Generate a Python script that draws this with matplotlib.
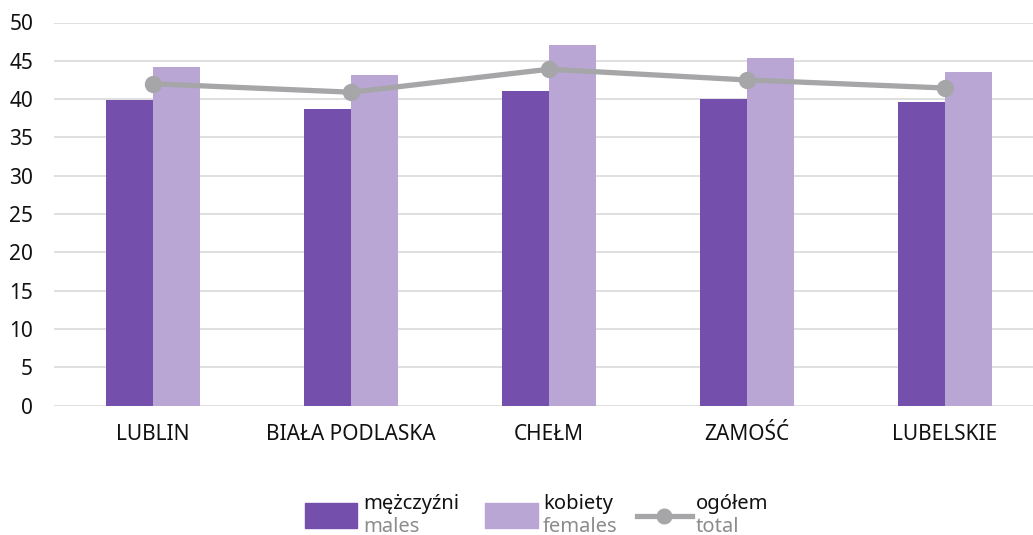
import matplotlib
matplotlib.use("Agg")
import matplotlib.pyplot as plt
from matplotlib.patches import Rectangle
from matplotlib.lines import Line2D
import numpy as np

categories = ["LUBLIN", "BIAŁA PODLASKA", "CHEŁM", "ZAMOŚĆ", "LUBELSKIE"]
males = [39.9, 38.7, 41.05, 40.0, 39.6]
females = [44.25, 43.1, 47.1, 45.4, 43.5]
total = [42.0, 40.9, 43.9, 42.5, 41.45]
yticks = [0, 5, 10, 15, 20, 25, 30, 35, 40, 45, 50]

c_m = "#7450AC"
c_f = "#B9A6D5"
c_t = "#A6A6A8"
c_grid = "#D9D9D9"

plt.rcParams['font.family'] = ['Noto Sans', 'DejaVu Sans']

W, H = 1033, 535
fig = plt.figure(figsize=(W/100, H/100), dpi=100)
ax = fig.add_axes([54/W, (H-405.5)/H, 990/W, (405.5-22.5)/H])

x = np.arange(len(categories))
bw = 0.236
ax.bar(x - bw/2, males, width=bw, color=c_m, zorder=2, linewidth=0)
ax.bar(x + bw/2, females, width=bw, color=c_f, zorder=2, linewidth=0)
ax.plot(x, total, color=c_t, lw=3.8, marker='o', ms=11.5, zorder=3)

ax.set_xlim(-0.5, len(categories) - 0.5)
ax.set_ylim(0, 50)
ax.set_yticks(yticks)
ax.set_yticklabels([str(v) for v in yticks], fontsize=15, color="#111111")
ax.set_xticks(x)
ax.set_xticklabels(categories, fontsize=15, color="#111111")
ax.tick_params(axis='both', length=0)
ax.tick_params(axis='y', pad=15)
ax.tick_params(axis='x', pad=13)
ax.yaxis.grid(True, color=c_grid, lw=1.2, zorder=0)
ax.set_axisbelow(True)
for s in ax.spines.values():
    s.set_visible(False)

# custom legend
def fx(px):
    return px / W
def fy(py):
    return (H - py) / H

fig.patches.append(Rectangle((fx(305), fy(528)), 52/W, 25/H, transform=fig.transFigure,
                             color=c_m, figure=fig))
fig.patches.append(Rectangle((fx(485), fy(528)), 53/W, 25/H, transform=fig.transFigure,
                             color=c_f, figure=fig))
fig.lines.append(Line2D([fx(637), fx(692)], [fy(516), fy(516)], transform=fig.transFigure,
                        color=c_t, lw=3.8, figure=fig))
fig.lines.append(Line2D([fx(664)], [fy(516)], transform=fig.transFigure, marker='o', ms=10.5,
                        color=c_t, figure=fig))

legend_items = [(363, "mężczyźni", "males"), (543, "kobiety", "females"), (696, "ogółem", "total")]
for px, top, bot in legend_items:
    fig.text(fx(px), fy(509), top, fontsize=14.5, color="#111111", va='baseline', ha='left')
    fig.text(fx(px), fy(532), bot, fontsize=14.5, color="#8c8c8c", va='baseline', ha='left')

fig.savefig("out.png", dpi=100)
